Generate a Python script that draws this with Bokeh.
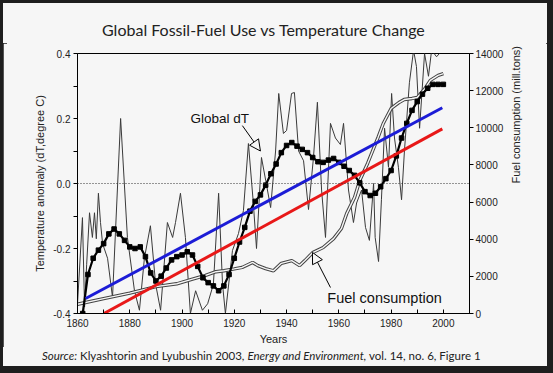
import math
from bokeh.plotting import figure
from bokeh.layouts import column
from bokeh.models import (Range1d, LinearAxis, Label, Arrow, NormalHead, Span,
                          FixedTicker, PrintfTickFormatter, Div)
from bokeh.embed import file_html
from bokeh.resources import INLINE

# ---- data ----
years_annual = [1860, 1861.9, 1862.7, 1863.5, 1864.6, 1865.7, 1866.5, 1867.2, 1868, 1868.8,
                1869.6, 1871.5, 1873.4, 1876.5, 1879.1, 1881.8, 1883.7, 1885.6, 1887.9, 1889.9,
                1891.8, 1894.4, 1896.4, 1897.5, 1899.4, 1901.3, 1903.2, 1905.2, 1907.8, 1909.8,
                1912, 1914, 1915.5, 1916.6, 1919.3, 1921.6, 1923.5, 1925.4, 1927.2, 1928.5,
                1930.4, 1932, 1933.9, 1935.8, 1937, 1938.8, 1940, 1941.9, 1943, 1944.6,
                1946.5, 1948.4, 1950.3, 1951.8, 1953.4, 1954.9, 1956.8, 1958.7, 1960.6, 1961.8,
                1963.7, 1965.6, 1966.8, 1968.7, 1970.2, 1971.7, 1973.3, 1973.9, 1975.2, 1976.3,
                1977.5, 1979, 1980.2, 1981.3, 1982.8, 1984, 1985.1, 1987, 1988.6, 1989.7,
                1990.9, 1992.8, 1994.3, 1995.5, 1997.4, 1998.5]
dT_annual = [-0.37, -0.105, -0.38, -0.25, -0.09, -0.166, -0.09, -0.17, -0.03, -0.12,
             -0.185, -0.23, -0.35, 0.20, -0.166, -0.33, -0.39, -0.23, -0.13, -0.31,
             -0.39, -0.12, -0.166, -0.12, -0.03, -0.166, -0.40, -0.33, -0.39, -0.37,
             -0.31, -0.03, -0.31, -0.40, -0.206, -0.154, -0.083, 0.123, -0.052, -0.20,
             0.08, 0.01, -0.074, 0.10, 0.277, 0.154, 0.163, 0.277, 0.28, 0.10,
             0.07, -0.08, 0.08, 0.25, -0.02, -0.166, 0.185, 0.14, 0.12, 0.185,
             -0.02, -0.12, -0.06, -0.02, -0.135, -0.175, 0.0, -0.166, -0.24, -0.05,
             0.17, 0.05, 0.277, 0.14, 0.05, -0.05, 0.10, 0.31, 0.41, 0.36,
             0.17, 0.40, 0.33, 0.41, 0.39, 0.40]

years_smooth = [1862, 1864, 1866, 1868, 1870, 1872, 1874, 1876, 1878, 1880,
                1882, 1884, 1886, 1888, 1890, 1892, 1894, 1896, 1898, 1900,
                1902, 1904, 1906, 1908, 1910, 1912, 1914, 1916, 1918, 1920,
                1922, 1924, 1926, 1928, 1930, 1932, 1934, 1936, 1938, 1940,
                1942, 1944, 1946, 1948, 1950, 1952, 1954, 1956, 1958, 1960,
                1962, 1964, 1966, 1968, 1970, 1972, 1974, 1976, 1978, 1980,
                1982, 1984, 1986, 1988, 1990, 1992, 1994, 1996, 1998, 2000]
dT_smooth = [-0.40, -0.28, -0.23, -0.205, -0.185, -0.155, -0.14, -0.155, -0.175, -0.195,
             -0.20, -0.195, -0.225, -0.275, -0.30, -0.285, -0.26, -0.235, -0.225, -0.22,
             -0.21, -0.22, -0.255, -0.29, -0.305, -0.315, -0.33, -0.315, -0.28, -0.23,
             -0.18, -0.135, -0.085, -0.055, -0.035, -0.005, 0.03, 0.06, 0.095, 0.117,
             0.126, 0.115, 0.105, 0.095, 0.08, 0.067, 0.065, 0.072, 0.077, 0.065,
             0.053, 0.04, 0.025, 0.002, -0.025, -0.037, -0.03, -0.01, 0.015, 0.04,
             0.085, 0.14, 0.185, 0.225, 0.252, 0.275, 0.293, 0.305, 0.305, 0.305]

years_fuel = [1860, 1870, 1880, 1890, 1898, 1904, 1909, 1913, 1916, 1920,
              1923, 1927, 1929, 1932, 1935, 1938, 1942, 1945, 1947, 1950,
              1954, 1958, 1961, 1963, 1966, 1968, 1971, 1973, 1975, 1977,
              1980, 1983, 1985, 1988, 1990, 1993, 1995, 1998, 2000]
fuel = [500, 800, 1100, 1450, 1600, 1850, 2050, 2250, 2300, 2400,
        2480, 2750, 2580, 2420, 2300, 2700, 2850, 2580, 2850, 3280,
        3550, 4030, 4580, 5380, 6250, 7160, 8080, 8780, 9480, 10230,
        11040, 11360, 11520, 11580, 11630, 12120, 12550, 12820, 12920]

blue_years = [1863.1, 1999.6]
blue_dT = [-0.354, 0.233]
red_years = [1870.1, 1999.6]
red_dT = [-0.40, 0.168]

dT_ticks = [-0.4, -0.2, 0.0, 0.2, 0.4]
dT_minor = [-0.3, -0.1, 0.1, 0.3]
fuel_ticks = [0, 2000, 4000, 6000, 8000, 10000, 12000, 14000]
year_ticks = [1860, 1880, 1900, 1920, 1940, 1960, 1980, 2000]
year_minor = [1870, 1890, 1910, 1930, 1950, 1970, 1990, 2010]

BG = "#f6f6f6"
DARK = "#1e1e1e"
AX = "Liberation Sans"
TF = "Lato"

title_html = ('<div style="padding-left:99px; padding-top:17px; line-height:20px; '
              'font-family:Lato; font-size:16px; color:#222222; white-space:nowrap;">'
              'Global Fossil-Fuel Use vs Temperature Change</div>')
title = Div(text=title_html, width=544, height=40, margin=(3, 6, 0, 3),
            styles={"background-color": BG})

p = figure(width=544, height=304, output_backend="svg", toolbar_location=None,
           x_range=Range1d(1860, 2010), y_range=Range1d(-0.4, 0.4),
           min_border_left=74, min_border_right=78, min_border_top=10, min_border_bottom=34,
           background_fill_color=BG, border_fill_color=BG, margin=(0, 6, 0, 3))
p.extra_y_ranges = {"fuel": Range1d(0, 14000)}
p.grid.visible = False
p.outline_line_color = "black"
p.outline_line_width = 1

# axes
xa = p.xaxis[0]
xa.ticker = FixedTicker(ticks=year_ticks, minor_ticks=year_minor)
xa.major_tick_in = 4
xa.major_tick_out = 0
xa.minor_tick_in = 4
xa.minor_tick_out = 0
xa.axis_label = "Years"

ya = p.yaxis[0]
ya.ticker = FixedTicker(ticks=dT_ticks, minor_ticks=dT_minor)
ya.formatter = PrintfTickFormatter(format="%.1f")
ya.major_tick_in = 0
ya.major_tick_out = 4
ya.minor_tick_in = 0
ya.minor_tick_out = 4
ya.axis_label = "Temperature anomaly (dT,degree C)"

ra = LinearAxis(y_range_name="fuel", ticker=FixedTicker(ticks=fuel_ticks, minor_ticks=[]),
                axis_label="Fuel consumption (mill.tons)")
ra.major_tick_in = 0
ra.major_tick_out = 4
ra.axis_label_orientation = math.pi / 2
p.add_layout(ra, "right")

for ax in [xa, ya, ra]:
    ax.axis_line_color = "black"
    ax.major_tick_line_color = "black"
    ax.minor_tick_line_color = "black"
    ax.major_label_text_font = AX
    ax.major_label_text_font_size = "10px"
    ax.major_label_text_color = "#222222"
    ax.axis_label_text_font = AX
    ax.axis_label_text_font_size = "11px"
    ax.axis_label_text_font_style = "normal"
    ax.axis_label_text_color = "#222222"
xa.major_label_standoff = 5
xa.axis_label_standoff = 3
ya.major_label_standoff = 3
ya.axis_label_standoff = 4
ra.major_label_standoff = 2
ra.axis_label_standoff = 10

# zero dotted line
p.add_layout(Span(location=0, dimension="width", line_color="#333333",
                  line_width=1, line_dash="1 2"))

# annual dT thin line
p.line(years_annual, dT_annual, line_color="#3a3a3a", line_width=1)

# fuel consumption (hollow double line)
p.line(years_fuel, fuel, y_range_name="fuel", line_color="#444444", line_width=3.4)
p.line(years_fuel, fuel, y_range_name="fuel", line_color=BG, line_width=1.4)

# smoothed dT
p.line(years_smooth, dT_smooth, line_color="black", line_width=2.2)
p.scatter(years_smooth, dT_smooth, marker="square", size=4.5, fill_color="black",
          line_color="black")

# trend lines
p.line(blue_years, blue_dT, line_color="#1c1cd6", line_width=3)
p.line(red_years, red_dT, line_color="#e81818", line_width=3)

# annotations
p.add_layout(Label(x=1903.2, y=0.2, text="Global dT", text_font=AX, text_font_size="13.5px",
                   text_baseline="middle", text_align="left", text_color="#111111"))
p.add_layout(Arrow(x_start=1923.1, y_start=0.178, x_end=1930.0, y_end=0.10,
                   line_color="black", line_width=1,
                   end=NormalHead(size=11, fill_color=BG, line_color="black", line_width=1)))
p.add_layout(Label(x=1955.6, y=-0.351, text="Fuel consumption", text_font=AX,
                   text_font_size="14.5px", text_baseline="middle", text_align="left",
                   text_color="#111111"))
p.add_layout(Arrow(x_start=1956.8, y_start=-0.32, x_end=1949.9, y_end=-0.212,
                   line_color="black", line_width=1,
                   end=NormalHead(size=11, fill_color=BG, line_color="black", line_width=1)))

# source line
src_html = ('<div style="padding-left:39px; line-height:18px; font-family:Lato; '
            'font-size:11.5px; color:#222222; white-space:nowrap;">'
            '<i>Source:</i> Klyashtorin and Lyubushin 2003, '
            '<i>Energy and Environment,</i> vol. 14, no. 6, Figure 1</div>')
src = Div(text=src_html, width=544, height=19, margin=(0, 6, 7, 3),
          styles={"background-color": BG})

layout = column(title, p, src, spacing=0,
                styles={"background-color": BG,
                        "box-shadow": "inset 0 0 0 7px " + DARK})

open("out.html", "w").write(file_html(layout, INLINE))
